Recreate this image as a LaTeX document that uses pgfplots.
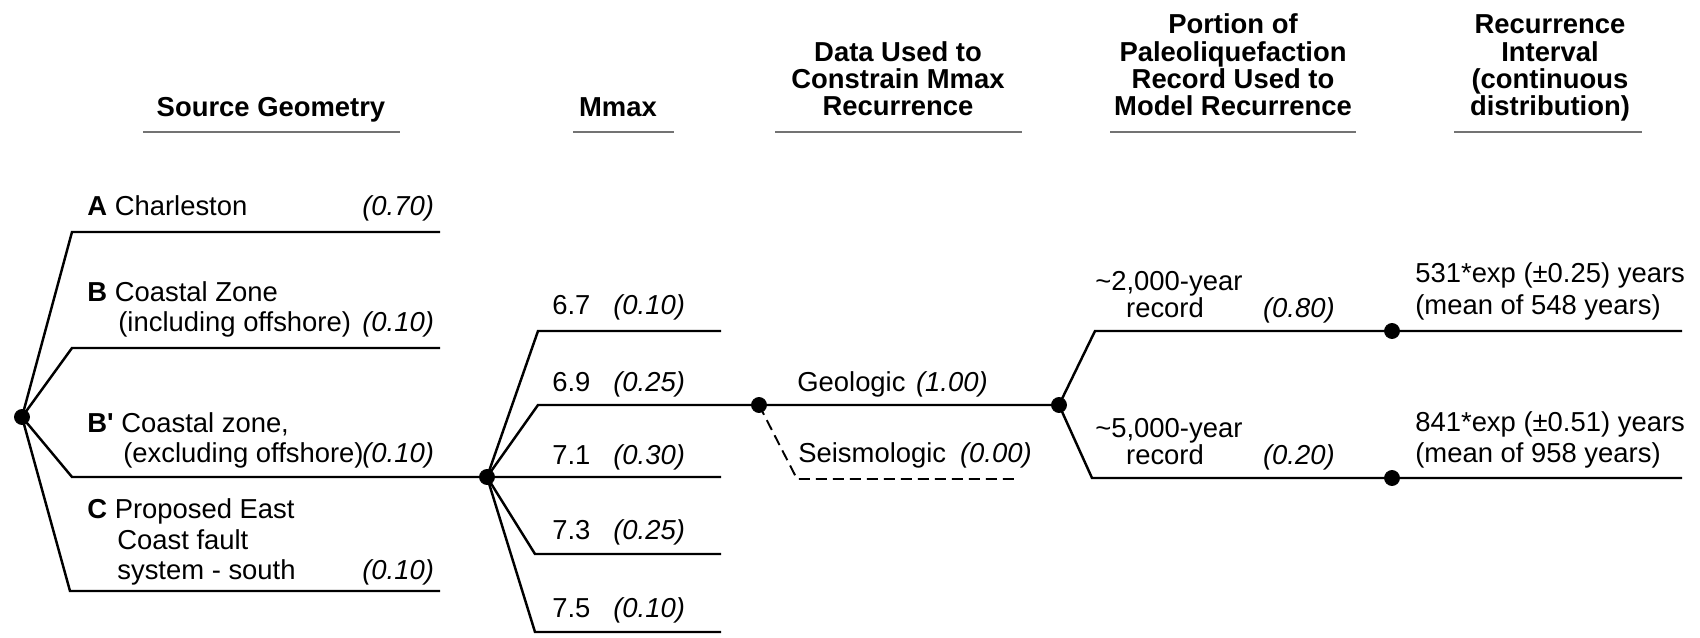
\documentclass[border=0pt]{standalone}
\usepackage{fontspec}
\setmainfont{Liberation Sans}[Ligatures=TeXOff]
\usepackage{pgfplots}
\pgfplotsset{compat=1.18}
\begin{document}
\begin{tikzpicture}
\begin{axis}[
  scale only axis, width=340mm, height=127.6mm,
  xmin=0, xmax=1700, ymin=0, ymax=638, y dir=reverse,
  hide axis, clip=false,
  tree/.style={black, line width=1.4pt, mark=none},
  uline/.style={black!55, line width=1.3pt, mark=none},
  nodes={inner sep=0pt, font=\fontsize{15.6pt}{18pt}\selectfont},
]
\draw[draw=none] (rel axis cs:0,0) rectangle (rel axis cs:1,1);
% header underlines
\addplot[uline] coordinates {(143,132) (400,132)};
\addplot[uline] coordinates {(573,132) (674,132)};
\addplot[uline] coordinates {(775,132) (1022,132)};
\addplot[uline] coordinates {(1110,132) (1356,132)};
\addplot[uline] coordinates {(1454,132) (1642,132)};
% source geometry branches
\addplot[tree] coordinates {(22,417) (72,232) (440,232)};
\addplot[tree] coordinates {(22,417) (72,348) (440,348)};
\addplot[tree] coordinates {(22,417) (72,477) (721,477)};
\addplot[tree] coordinates {(22,417) (70,591) (440,591)};
% Mmax branches
\addplot[tree] coordinates {(487,477) (538,331) (721,331)};
\addplot[tree] coordinates {(487,477) (538,405) (1059,405)};
\addplot[tree] coordinates {(487,477) (535,554) (721,554)};
\addplot[tree] coordinates {(487,477) (535,632) (721,632)};
% data branches
\addplot[tree, line width=1.1pt, dash pattern=on 2.2mm off 1.2mm] coordinates {(759,405) (797,479) (1018,479)};
% paleoliquefaction branches
\addplot[tree] coordinates {(1059,405) (1095,331) (1682,331)};
\addplot[tree] coordinates {(1059,405) (1092,478) (1682,478)};
% nodes
\addplot[only marks, mark=*, mark size=4.3pt, black] coordinates {(22,417) (487,477) (759,405) (1059,405) (1392,331) (1392,478)};

% headers
\node[anchor=base, font=\fontsize{15.6pt}{18pt}\selectfont\bfseries] at (axis cs:271,117) {Source Geometry};
\node[anchor=base, font=\fontsize{15.6pt}{18pt}\selectfont\bfseries] at (axis cs:618,117) {Mmax};
\node[anchor=base, font=\fontsize{15.6pt}{18pt}\selectfont\bfseries] at (axis cs:898,62) {Data Used to};
\node[anchor=base, font=\fontsize{15.6pt}{18pt}\selectfont\bfseries] at (axis cs:898,89) {Constrain Mmax};
\node[anchor=base, font=\fontsize{15.6pt}{18pt}\selectfont\bfseries] at (axis cs:898,116) {Recurrence};
\node[anchor=base, font=\fontsize{15.6pt}{18pt}\selectfont\bfseries] at (axis cs:1233,34) {Portion of};
\node[anchor=base, font=\fontsize{15.6pt}{18pt}\selectfont\bfseries] at (axis cs:1233,62) {Paleoliquefaction};
\node[anchor=base, font=\fontsize{15.6pt}{18pt}\selectfont\bfseries] at (axis cs:1233,89) {Record Used to};
\node[anchor=base, font=\fontsize{15.6pt}{18pt}\selectfont\bfseries] at (axis cs:1233,116) {Model Recurrence};
\node[anchor=base, font=\fontsize{15.6pt}{18pt}\selectfont\bfseries] at (axis cs:1550,34) {Recurrence};
\node[anchor=base, font=\fontsize{15.6pt}{18pt}\selectfont\bfseries] at (axis cs:1550,62) {Interval};
\node[anchor=base, font=\fontsize{15.6pt}{18pt}\selectfont\bfseries] at (axis cs:1550,89) {(continuous};
\node[anchor=base, font=\fontsize{15.6pt}{18pt}\selectfont\bfseries] at (axis cs:1550,116) {distribution)};

% source geometry labels
\node[anchor=base west] at (axis cs:87,216) {\textbf{A} Charleston};
\node[anchor=base west] at (axis cs:362,216) {\itshape (0.70)};
\node[anchor=base west] at (axis cs:87,302) {\textbf{B} Coastal Zone};
\node[anchor=base west] at (axis cs:118,332) {(including offshore)};
\node[anchor=base west] at (axis cs:362,332) {\itshape (0.10)};
\node[anchor=base west] at (axis cs:87,432) {\textbf{B'} Coastal zone,};
\node[anchor=base west] at (axis cs:123,462) {(excluding offshore)};
\node[anchor=base west] at (axis cs:362,462) {\itshape (0.10)};
\node[anchor=base west] at (axis cs:87,518) {\textbf{C} Proposed East};
\node[anchor=base west] at (axis cs:117,549) {Coast fault};
\node[anchor=base west] at (axis cs:117,579) {system - south};
\node[anchor=base west] at (axis cs:362,579) {\itshape (0.10)};

% Mmax labels
\node[anchor=base west] at (axis cs:552,315) {6.7};
\node[anchor=base west] at (axis cs:613,315) {\itshape (0.10)};
\node[anchor=base west] at (axis cs:552,391) {6.9};
\node[anchor=base west] at (axis cs:613,391) {\itshape (0.25)};
\node[anchor=base west] at (axis cs:552,464) {7.1};
\node[anchor=base west] at (axis cs:613,464) {\itshape (0.30)};
\node[anchor=base west] at (axis cs:552,539) {7.3};
\node[anchor=base west] at (axis cs:613,539) {\itshape (0.25)};
\node[anchor=base west] at (axis cs:552,617) {7.5};
\node[anchor=base west] at (axis cs:613,617) {\itshape (0.10)};

% data labels
\node[anchor=base west] at (axis cs:797,391) {Geologic};
\node[anchor=base east] at (axis cs:988,391) {\itshape (1.00)};
\node[anchor=base west] at (axis cs:798,462) {Seismologic};
\node[anchor=base east] at (axis cs:1032,462) {\itshape (0.00)};

% paleoliquefaction labels
\node[anchor=base west] at (axis cs:1095,291) {\textasciitilde 2,000-year};
\node[anchor=base] at (axis cs:1165,318) {record};
\node[anchor=base east] at (axis cs:1335,318) {\itshape (0.80)};
\node[anchor=base west] at (axis cs:1095,437) {\textasciitilde 5,000-year};
\node[anchor=base] at (axis cs:1165,464) {record};
\node[anchor=base east] at (axis cs:1335,464) {\itshape (0.20)};

% recurrence labels
\node[anchor=base west] at (axis cs:1415,283) {531*exp (±0.25) years};
\node[anchor=base west] at (axis cs:1415,315) {(mean of 548 years)};
\node[anchor=base west] at (axis cs:1415,431) {841*exp (±0.51) years};
\node[anchor=base west] at (axis cs:1415,462) {(mean of 958 years)};
\end{axis}
\end{tikzpicture}
\end{document}
